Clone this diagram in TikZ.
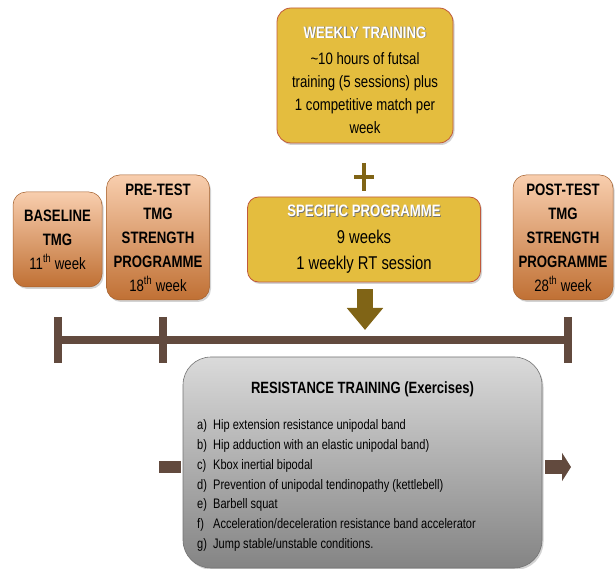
\documentclass[tikz,border=0pt]{standalone}
\usepackage{fontspec}
\setmainfont{Liberation Sans}[FakeStretch=0.8]
\usepackage{xcolor}
\usetikzlibrary{arrows.meta,positioning,shadows}
\definecolor{goldfill}{RGB}{228,189,62}
\definecolor{goldline}{RGB}{192,90,60}
\definecolor{peachtop}{RGB}{248,206,174}
\definecolor{peachbot}{RGB}{192,112,52}
\definecolor{greytop}{RGB}{218,218,218}
\definecolor{greybot}{RGB}{132,132,132}
\definecolor{olivebr}{RGB}{128,100,22}
\definecolor{timebr}{RGB}{98,74,62}
\newcommand\glowtxt[1]{\rlap{\color{black!55}\kern0.8pt\raisebox{-0.8pt}{#1}}{\color{white}#1}}
\newcommand\exlab[1]{\makebox[16pt][l]{#1}}

\begin{document}
\begin{tikzpicture}[x=1pt, y=-1pt,
  every node/.style={align=center, inner sep=0pt},
  shad/.style={drop shadow={opacity=0.35, shadow xshift=1.5pt, shadow yshift=-2pt}},
  goldbox/.style={shad, draw=goldline, line width=0.8pt, fill=goldfill, rounded corners=14pt},
  peachbox/.style={shad, draw=peachbot!85!black, line width=0.5pt, top color=peachtop,
    bottom color=peachbot, rounded corners=13pt, font=\fontsize{16.5}{24}\selectfont\bfseries},
  greybox/.style={shad, draw=black!55, line width=0.6pt, top color=greytop,
    bottom color=greybot, rounded corners=28pt},
  tline/.style={draw=timebr, line width=8pt},
  downarr/.style={draw=olivebr, line width=16pt, -{Triangle[length=22pt, width=35pt]}},
  sidearr/.style={draw=timebr, line width=14pt, -{Triangle[length=9pt, width=28pt]}}
]
\useasboundingbox (0,0) rectangle (616,569);

% top boxes
\node[goldbox, minimum width=176pt, minimum height=135pt] (weekly) at (365,75.5) {};
\node[font=\fontsize{16.5}{23}\selectfont] (weeklytxt) at (365,80)
  {\glowtxt{\bfseries WEEKLY TRAINING}\\[3pt] {\textasciitilde}10 hours of futsal\\
   training (5 sessions) plus\\ 1 competitive match per\\ week};
\node[goldbox, minimum width=233pt, minimum height=85pt, rounded corners=11pt,
  font=\fontsize{18.5}{26.5}\selectfont] (spec) at (364,239.5)
  {\fontsize{16.5}{26.5}\selectfont\glowtxt{\bfseries SPECIFIC PROGRAMME}\\ 9 weeks\\ 1 weekly RT session};

\coordinate (plus) at (364,177);
\draw[draw=olivebr, line width=4pt] ([yshift=14pt]plus) -- ([yshift=-14pt]plus)
  ([xshift=-10pt]plus) -- ([xshift=10pt]plus);

% test boxes
\node[peachbox, minimum width=89pt, minimum height=95pt] (base) at (57.5,239.5)
  {BASELINE\\ TMG\\ \mdseries 11\textsuperscript{th} week};
\node[peachbox, minimum width=103pt, minimum height=125pt] (pre) at (158,237.5)
  {PRE-TEST\\ TMG\\ STRENGTH\\ PROGRAMME\\ \mdseries 18\textsuperscript{th} week};
\node[peachbox, minimum width=100pt, minimum height=125pt] (post) at (563,237.5)
  {POST-TEST\\ TMG\\ STRENGTH\\ PROGRAMME\\ \mdseries 28\textsuperscript{th} week};

% timeline
\coordinate (t1) at (58,340);
\coordinate (t2) at (163,340);
\coordinate (t3) at (568,340);
\draw[tline] (t1) -- (t3);
\foreach \t in {t1,t2,t3}
  \draw[tline] ([yshift=23pt]\t) -- ([yshift=-23pt]\t);
\coordinate (arrtip) at (365,330);
\draw[downarr] ([yshift=-7pt]spec.south -| arrtip) -- (arrtip);

% resistance training
\node[greybox, minimum width=359pt, minimum height=211pt] (rt) at (362.5,462.5) {};
\node[font=\fontsize{16.3}{20}\selectfont\bfseries] (rttitle) at (362.5,389)
  {RESISTANCE TRAINING (Exercises)};
\node[font=\fontsize{13.8}{19.8}\selectfont, align=left, anchor=north west] (exlist) at (197,419.5)
  {\exlab{a)}Hip extension resistance unipodal band\\
   \exlab{b)}Hip adduction with an elastic unipodal band)\\
   \exlab{c)}Kbox inertial bipodal\\
   \exlab{d)}Prevention of unipodal tendinopathy (kettlebell)\\
   \exlab{e)}Barbell squat\\
   \exlab{f)}Acceleration/deceleration resistance band accelerator\\
   \exlab{g)}Jump stable/unstable conditions.};

\coordinate (inL) at (159,467);
\coordinate (outR) at (545,467);
\coordinate (outtip) at (571,467);
\draw[draw=timebr, line width=12pt] (inL) -- ([xshift=-2pt]rt.west |- inL);
\draw[sidearr] (outR) -- (outtip);
\end{tikzpicture}
\end{document}
